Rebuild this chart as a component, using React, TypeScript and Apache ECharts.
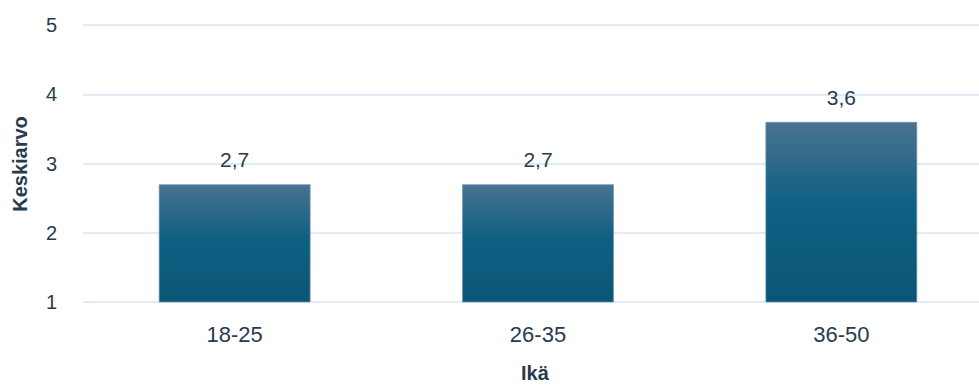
import React, { useEffect, useRef } from "react";
import * as echarts from "echarts";

const categories = ["18-25", "26-35", "36-50"];
const values = [2.7, 2.7, 3.6];
const yTicks = [1, 2, 3, 4, 5];
const xTitle = "Ikä";
const yTitle = "Keskiarvo";

const TEXT = "#2a3a4e";
const FONT = "'Liberation Sans', Arial, sans-serif";

export default function App() {
  const ref = useRef<HTMLDivElement>(null);
  useEffect(() => {
    if (!ref.current) return;
    const chart = echarts.init(ref.current, undefined, { renderer: "svg" });
    chart.setOption({
      animation: false,
      textStyle: { fontFamily: FONT },
      grid: { left: 83, right: -14, top: 25, bottom: 83, containLabel: false, outerBoundsMode: "none" },
      graphic: [
        {
          type: "text",
          left: 521,
          top: 363,
          style: {
            text: xTitle,
            fill: TEXT,
            font: `bold 20px ${FONT}`,
          },
        },
        {
          type: "text",
          x: 20,
          y: 164,
          rotation: Math.PI / 2,
          style: {
            text: yTitle,
            fill: TEXT,
            font: `bold 20px ${FONT}`,
            align: "center",
            verticalAlign: "middle",
          },
        },
      ],
      xAxis: {
        type: "category",
        data: categories,
        axisLine: { show: false },
        axisTick: { show: false },
        axisLabel: { color: TEXT, fontSize: 22, margin: 21, fontFamily: FONT },
      },
      yAxis: {
        type: "value",
        min: yTicks[0],
        max: yTicks[yTicks.length - 1],
        interval: 1,
        axisLine: { show: false },
        axisTick: { show: false },
        axisLabel: { color: TEXT, fontSize: 20, margin: 26, fontFamily: FONT },
        splitLine: { lineStyle: { color: "#d6e5f3", width: 1.5 } },
      },
      series: [
        {
          type: "bar",
          data: values,
          barWidth: "50%",
          itemStyle: {
            color: new echarts.graphic.LinearGradient(0, 0, 0, 1, [
              { offset: 0, color: "#4a7290" },
              { offset: 0.45, color: "#0f6083" },
              { offset: 1, color: "#0a5576" },
            ]),
            borderColor: "#6f97b1",
            borderWidth: 0.7,
          },
          label: {
            show: true,
            position: "top",
            distance: 14,
            color: TEXT,
            fontSize: 21,
            fontFamily: FONT,
            formatter: (p: any) => String(p.value).replace(".", ","),
          },
        },
      ],
    });
    return () => chart.dispose();
  }, []);
  return (
    <div
      ref={ref}
      style={{ position: "absolute", left: 0, top: 0, width: 979, height: 385 }}
    />
  );
}
